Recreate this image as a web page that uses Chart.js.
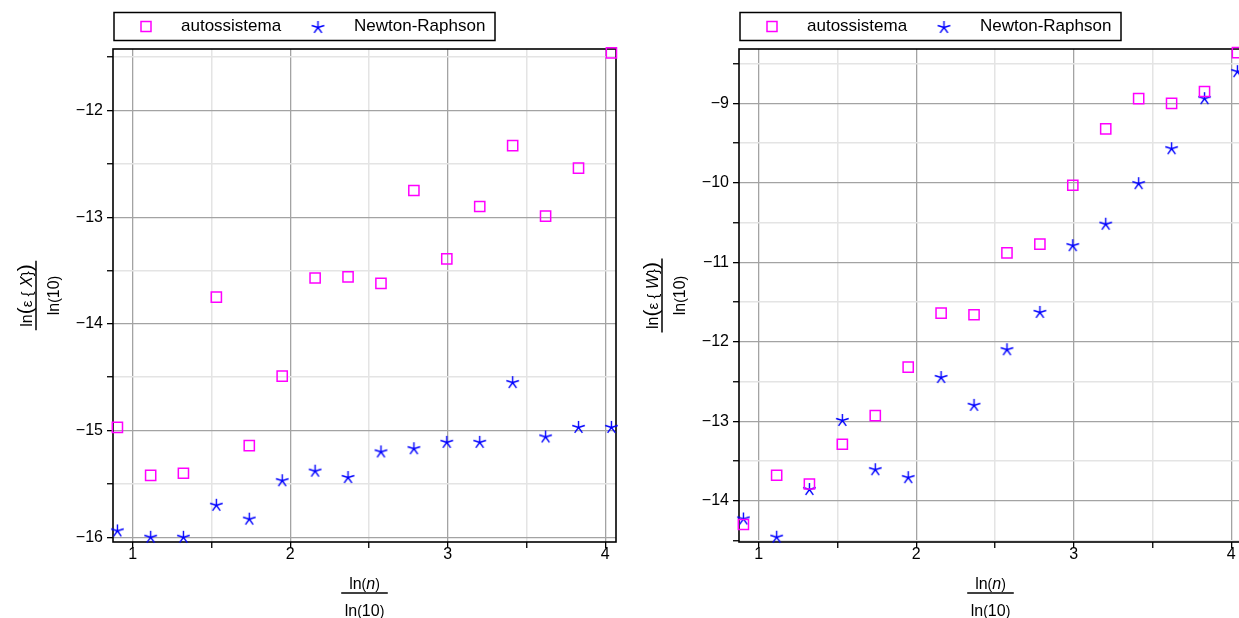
<!DOCTYPE html>
<html>
<head>
<meta charset="utf-8">
<script src="https://cdn.jsdelivr.net/npm/chart.js@4.4.1/dist/chart.umd.min.js"></script>
<style>
  html, body { margin: 0; padding: 0; background: #fff; width: 1239px; height: 618px; overflow: hidden; position: relative; }
  .wrap { position: absolute; top: 0; width: 626px; height: 618px; }
  #w1 { left: 0; }
  #w2 { left: 626px; }
</style>
</head>
<body>
<div class="wrap" id="w1"><canvas id="c1" width="626" height="618"></canvas></div>
<div class="wrap" id="w2"><canvas id="c2" width="626" height="618"></canvas></div>
<script>
// x = ln(n)/ln(10)
const xLog = [0.903, 1.114, 1.322, 1.531, 1.740, 1.949, 2.158, 2.367, 2.576, 2.785, 2.994, 3.203, 3.412, 3.621, 3.830, 4.039];
// left chart: ln(eps{X})/ln(10)
const autoX    = [-14.97, -15.42, -15.40, -13.75, -15.14, -14.49, -13.57, -13.56, -13.62, -12.75, -13.39, -12.90, -12.33, -12.99, -12.54, -11.46];
const newtonX  = [-15.94, -16.00, -16.00, -15.70, -15.83, -15.47, -15.38, -15.44, -15.20, -15.17, -15.11, -15.11, -14.55, -15.06, -14.97, -14.97];
// right chart: ln(eps{W})/ln(10)
const autoW    = [-14.30, -13.68, -13.79, -13.29, -12.93, -12.32, -11.64, -11.66, -10.88, -10.77, -10.03, -9.32, -8.94, -9.00, -8.85, -8.36];
const newtonW  = [-14.23, -14.46, -13.86, -12.99, -13.61, -13.71, -12.45, -12.80, -12.10, -11.63, -10.79, -10.52, -10.01, -9.57, -8.94, -8.60];
const seriesLabels = ['autossistema', 'Newton-Raphson'];
const xRange = [0.875, 4.068];
const yRangeX = [-16.044, -11.424];
const yRangeW = [-14.52, -8.315];

const FAM = '"Liberation Sans", Arial, Helvetica, sans-serif';
Chart.defaults.font.family = FAM;
Chart.defaults.color = '#000';

function makeStar() {
  const c = document.createElement('canvas');
  c.width = 15; c.height = 15;
  const g = c.getContext('2d');
  g.strokeStyle = '#0000ff';
  g.lineWidth = 1.4;
  g.beginPath();
  for (let i = 0; i < 5; i++) {
    const a = -Math.PI / 2 + i * 2 * Math.PI / 5;
    g.moveTo(7.5, 7.5);
    g.lineTo(7.5 + 6.6 * Math.cos(a), 7.5 + 6.6 * Math.sin(a));
  }
  g.stroke();
  return c;
}
const starImg = makeStar();

function drawSegs(ctx, segs, cx, baseY) {
  let total = 0;
  const ws = segs.map(s => { ctx.font = s[1] + ' ' + FAM; const w = ctx.measureText(s[0]).width; total += w; return w; });
  let x = cx - total / 2;
  ctx.textAlign = 'left';
  ctx.textBaseline = 'alphabetic';
  segs.forEach((s, i) => { ctx.font = s[1] + ' ' + FAM; ctx.fillText(s[0], x, baseY); x += ws[i]; });
  return total;
}
function segWidth(ctx, segs) {
  let t = 0;
  segs.forEach(s => { ctx.font = s[1] + ' ' + FAM; t += ctx.measureText(s[0]).width; });
  return t;
}
function drawFraction(ctx, num, den, cx, lineY) {
  const w = Math.max(segWidth(ctx, num), segWidth(ctx, den)) + 7;
  drawSegs(ctx, num, cx, lineY - 4.5);
  drawSegs(ctx, den, cx, lineY + 23);
  ctx.beginPath();
  ctx.lineWidth = 1.5;
  ctx.strokeStyle = '#000';
  ctx.moveTo(cx - w / 2, lineY);
  ctx.lineTo(cx + w / 2, lineY);
  ctx.stroke();
}

const decorPlugin = {
  id: 'decor',
  beforeDatasetsDraw(chart) {
    const { ctx, chartArea: ca } = chart;
    ctx.save();
    ctx.strokeStyle = '#000';
    ctx.lineWidth = 1.6;
    ctx.strokeRect(ca.left, ca.top, ca.right - ca.left, ca.bottom - ca.top);
    ctx.restore();
  },
  afterDraw(chart, args, opts) {
    const { ctx, chartArea: ca } = chart;
    ctx.save();
    // legend
    const bx = ca.left + 1, by = 12.5, bw = 381, bh = 28;
    ctx.strokeStyle = '#000';
    ctx.lineWidth = 1.5;
    ctx.strokeRect(bx, by, bw, bh);
    const cy = by + bh / 2;
    const ds = chart.data.datasets;
    ctx.strokeStyle = ds[0].borderColor;
    ctx.lineWidth = 1.5;
    ctx.strokeRect(bx + 32 - 5, cy - 5, 10, 10);
    ctx.drawImage(starImg, bx + 204 - 7.5, cy - 6.5);
    ctx.fillStyle = '#000';
    ctx.font = '17px ' + FAM;
    ctx.textAlign = 'left';
    ctx.textBaseline = 'middle';
    ctx.fillText(ds[0].label, bx + 67, cy);
    ctx.fillText(ds[1].label, bx + 240, cy);
    // x-axis title (fraction)
    ctx.fillStyle = '#000';
    const xcx = (ca.left + ca.right) / 2;
    drawFraction(ctx,
      [['ln', '16px'], ['(', '14px'], ['n', 'italic 16px'], [')', '14px']],
      [['ln', '16px'], ['(', '14px'], ['10', '16px'], [')', '14px']],
      xcx, ca.bottom + 51);
    // y-axis title (rotated fraction)
    ctx.translate(ca.left - 77, (ca.top + ca.bottom) / 2);
    ctx.rotate(-Math.PI / 2);
    drawFraction(ctx,
      [['ln', '16px'], ['(', '21px'], ['\u03b5', '15px'], [' {', '15px'], [' ' + opts.sym, 'italic 16px'], ['}', '15px'], [')', '21px']],
      [['ln', '16px'], ['(', '14px'], ['10', '16px'], [')', '14px']],
      0, 0);
    ctx.restore();
  }
};

function gridColor(c) {
  if (!c.tick) return '#e4e4e4';
  return Number.isInteger(c.tick.value) ? '#a3a3a3' : '#e4e4e4';
}
function gridWidth(c) {
  if (!c.tick) return 1.3;
  return Number.isInteger(c.tick.value) ? 1.3 : 1.5;
}

function makeChart(id, auto, newton, yr, sym) {
  return new Chart(document.getElementById(id), {
    type: 'scatter',
    data: {
      datasets: [
        {
          label: seriesLabels[0],
          data: xLog.map((x, i) => ({ x: x, y: auto[i] })),
          pointStyle: 'rect',
          pointRadius: 7.2,
          pointHoverRadius: 7.2,
          borderColor: '#ff00ff',
          backgroundColor: 'rgba(0,0,0,0)',
          borderWidth: 1.5,
          clip: false
        },
        {
          label: seriesLabels[1],
          data: xLog.map((x, i) => ({ x: x, y: newton[i] })),
          pointStyle: starImg,
          pointRadius: 7,
          borderColor: '#0000ff',
          backgroundColor: '#0000ff',
          clip: false
        }
      ]
    },
    options: {
      responsive: false,
      animation: false,
      events: [],
      layout: { padding: { top: 49, right: 10, left: 0, bottom: 0 } },
      plugins: {
        legend: { display: false },
        tooltip: { enabled: false },
        decor: { sym: sym }
      },
      scales: {
        x: {
          type: 'linear',
          min: xRange[0],
          max: xRange[1],
          afterFit: s => { s.height = 76; },
          border: { display: false },
          grid: { color: gridColor, lineWidth: gridWidth, tickColor: '#000', tickLength: 6, tickWidth: 1.3 },
          ticks: {
            stepSize: 0.5, includeBounds: false, autoSkip: false, maxRotation: 0,
            color: '#000', padding: -3, font: { size: 16, family: FAM },
            callback: v => Number.isInteger(v) ? String(v) : ''
          }
        },
        y: {
          type: 'linear',
          min: yr[0],
          max: yr[1],
          afterFit: s => { s.width = 113; },
          border: { display: false },
          grid: { color: gridColor, lineWidth: gridWidth, tickColor: '#000', tickLength: 6, tickWidth: 1.3 },
          ticks: {
            stepSize: 0.5, includeBounds: false, autoSkip: false,
            color: '#000', padding: 4, font: { size: 16, family: FAM },
            callback: v => Number.isInteger(v) ? (v < 0 ? '\u2212' : '') + Math.abs(v) : ''
          }
        }
      }
    },
    plugins: [decorPlugin]
  });
}

makeChart('c1', autoX, newtonX, yRangeX, 'X');
makeChart('c2', autoW, newtonW, yRangeW, 'W');
</script>
</body>
</html>
